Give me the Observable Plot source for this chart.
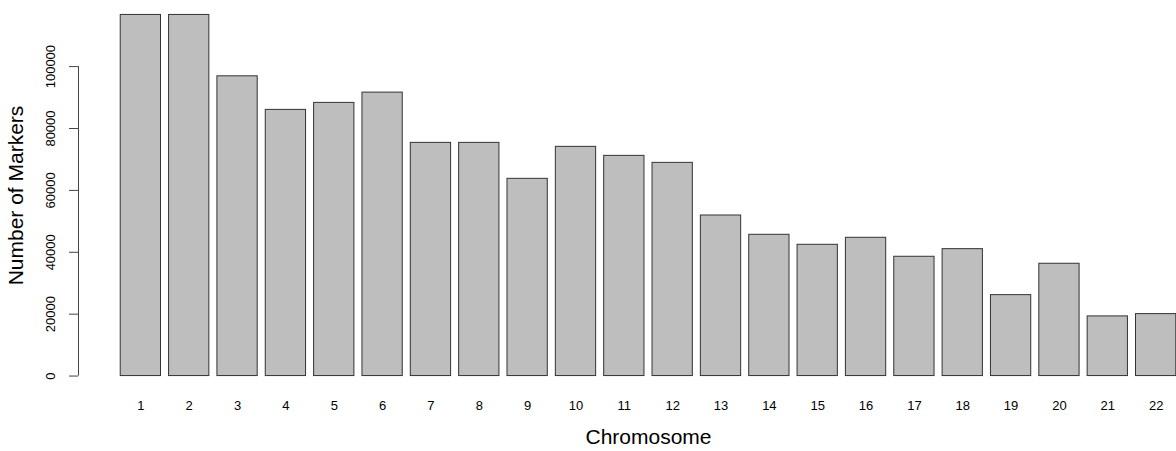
<!DOCTYPE html>
<html><head><meta charset="utf-8">
<script src="https://cdn.jsdelivr.net/npm/d3@7"></script>
<script src="https://cdn.jsdelivr.net/npm/@observablehq/plot@0.6"></script>
<style>body{margin:0;background:#fff;overflow:hidden}</style>
</head><body><div id="chart"></div>
<script>
const chromosomes = ["1","2","3","4","5","6","7","8","9","10","11","12","13","14","15","16","17","18","19","20","21","22"];
const markers = [116700,116700,96870,86020,88280,91600,75360,75360,63740,74070,71160,68900,51890,45650,42420,44680,38550,41010,26150,36290,19280,20020];
const yTicks = [0,20000,40000,60000,80000,100000];
const xTitle = "Chromosome";
const yTitle = "Number of Markers";

// R barplot layout defaults: bar width 1, space 0.2, axes extended by 4%
const barWidth = 1, barSpace = 0.2;
const bars = chromosomes.map((c, i) => ({
  chr: c, n: markers[i],
  x1: barSpace + i * (barWidth + barSpace),
  x2: (i + 1) * (barWidth + barSpace)
}));
const xlo = bars[0].x1, xhi = bars[bars.length - 1].x2;
const xpad = 0.04 * (xhi - xlo);
const ymax = d3.max(markers);
const ypad = 0.04 * ymax;
const centers = bars.map(b => (b.x1 + b.x2) / 2);
const labelAt = new Map(centers.map((c, i) => [c, chromosomes[i]]));

const chart = Plot.plot({
  width: 1176, height: 451,
  marginLeft: 78, marginRight: -42, marginTop: 0, marginBottom: 61,
  style: {fontFamily: "'Liberation Sans', Arial, sans-serif", fontSize: "13px", color: "#000", background: "#fff", overflow: "visible"},
  x: {type: "linear", domain: [xlo - xpad, xhi + xpad]},
  y: {domain: [-ypad, ymax + ypad]},
  marks: [
    Plot.rectY(bars, {x1: "x1", x2: "x2", y1: 0, y2: "n", fill: "#bebebe", stroke: "#333", strokeWidth: 1}),
    Plot.ruleX([xlo - xpad], {y1: yTicks[0], y2: yTicks[yTicks.length - 1], stroke: "#444"}),
    Plot.axisY({ticks: yTicks, tickSize: 9, tickFormat: d => String(d), tickRotate: -90, tickPadding: 15, fontSize: 13, stroke: "#444", fill: "#000", label: null}),
    Plot.axisY({ticks: [], label: yTitle, labelAnchor: "center", labelArrow: "none", labelOffset: 70, fontSize: 21, fill: "#000"}),
    Plot.axisX({ticks: centers, tickFormat: d => labelAt.get(d), tickSize: 0, tickPadding: 10, fontSize: 13, fill: "#000", label: null}),
    Plot.axisX({ticks: [], label: xTitle, labelAnchor: "center", labelArrow: "none", labelOffset: 53, fontSize: 21, fill: "#000"})
  ]
});
document.getElementById("chart").appendChild(chart);
</script>
</body></html>
